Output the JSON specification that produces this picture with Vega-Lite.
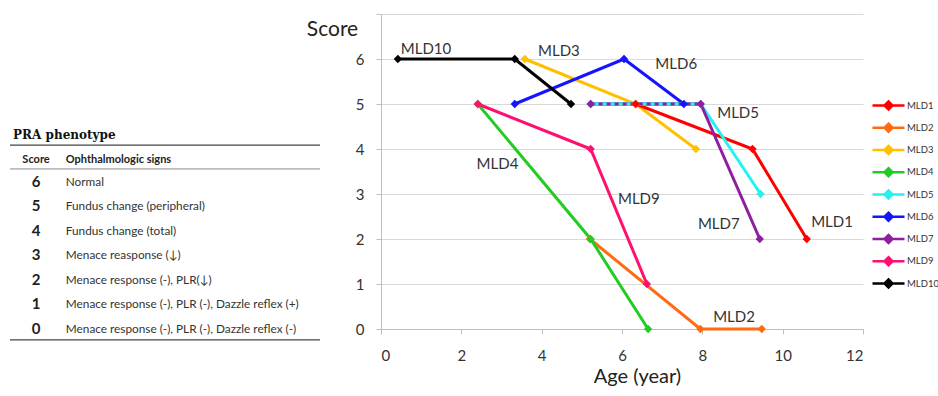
{
  "$schema": "https://vega.github.io/schema/vega-lite/v6.json",
  "padding": {"left": 9, "top": 13, "right": 0, "bottom": 0},
  "autosize": {"type": "pad"},
  "config": {"view": {"stroke": null}, "font": "Lato"},
  "bounds": "flush",
  "spacing": 61,
  "datasets": {
    "phenotype": [
      {"score": 6, "sign": "Normal"},
      {"score": 5, "sign": "Fundus change (peripheral)"},
      {"score": 4, "sign": "Fundus change (total)"},
      {"score": 3, "sign": "Menace reasponse (↓)"},
      {"score": 2, "sign": "Menace response (-), PLR(↓)"},
      {"score": 1, "sign": "Menace response (-), PLR (-), Dazzle reflex (+)"},
      {"score": 0, "sign": "Menace response (-), PLR (-), Dazzle reflex (-)"}
    ],
    "series": [
      {"series": "MLD2", "age": 5.2, "score": 2},
      {"series": "MLD2", "age": 7.95, "score": 0},
      {"series": "MLD2", "age": 9.48, "score": 0},
      {"series": "MLD3", "age": 3.58, "score": 6},
      {"series": "MLD3", "age": 6.34, "score": 5},
      {"series": "MLD3", "age": 7.84, "score": 4},
      {"series": "MLD1", "age": 6.34, "score": 5},
      {"series": "MLD1", "age": 9.25, "score": 4},
      {"series": "MLD1", "age": 10.6, "score": 2},
      {"series": "MLD4", "age": 2.41, "score": 5},
      {"series": "MLD4", "age": 5.22, "score": 2},
      {"series": "MLD4", "age": 6.65, "score": 0},
      {"series": "MLD5", "age": 5.22, "score": 5},
      {"series": "MLD5", "age": 7.96, "score": 5},
      {"series": "MLD5", "age": 9.45, "score": 3},
      {"series": "MLD6", "age": 3.33, "score": 5},
      {"series": "MLD6", "age": 6.05, "score": 6},
      {"series": "MLD6", "age": 7.54, "score": 5},
      {"series": "MLD7", "age": 5.22, "score": 5},
      {"series": "MLD7", "age": 7.96, "score": 5},
      {"series": "MLD7", "age": 9.43, "score": 2},
      {"series": "MLD9", "age": 2.41, "score": 5},
      {"series": "MLD9", "age": 5.22, "score": 4},
      {"series": "MLD9", "age": 6.62, "score": 1},
      {"series": "MLD10", "age": 0.42, "score": 6},
      {"series": "MLD10", "age": 3.33, "score": 6},
      {"series": "MLD10", "age": 4.73, "score": 5}
    ],
    "labels": [
      {"name": "MLD10", "age": 1.12, "score": 6.22},
      {"name": "MLD3", "age": 4.43, "score": 6.18},
      {"name": "MLD6", "age": 7.35, "score": 5.9},
      {"name": "MLD5", "age": 8.89, "score": 4.8},
      {"name": "MLD4", "age": 2.9, "score": 3.67},
      {"name": "MLD9", "age": 6.42, "score": 2.89},
      {"name": "MLD7", "age": 8.41, "score": 2.33},
      {"name": "MLD1", "age": 11.23, "score": 2.38},
      {"name": "MLD2", "age": 8.79, "score": 0.27}
    ]
  },
  "hconcat": [
    {
      "width": 310,
      "height": 332,
      "layer": [
        {
          "data": {"name": "phenotype"},
          "mark": {"type": "text", "font": "Lato", "fontWeight": "bold", "fontSize": 15, "align": "center", "baseline": "middle", "color": "#222"},
          "encoding": {
            "x": {"datum": 8.4, "type": "quantitative", "scale": {"domain": [0, 100], "nice": false, "zero": false}, "axis": null},
            "y": {"field": "score", "type": "quantitative", "scale": {"domain": [-0.7, 12.857], "nice": false, "zero": false}, "axis": null},
            "text": {"field": "score"}
          }
        },
        {
          "data": {"name": "phenotype"},
          "mark": {"type": "text", "font": "Lato", "fontSize": 11.8, "align": "left", "baseline": "middle", "color": "#333"},
          "encoding": {
            "x": {"datum": 18, "type": "quantitative"},
            "y": {"field": "score", "type": "quantitative"},
            "text": {"field": "sign"}
          }
        },
        {
          "data": {"values": [{"col": "Score"}]},
          "mark": {"type": "text", "font": "Lato", "fontWeight": "bold", "fontSize": 11, "align": "center", "baseline": "middle", "color": "#222"},
          "encoding": {
            "x": {"datum": 8.4, "type": "quantitative"},
            "y": {"datum": 6.9, "type": "quantitative"},
            "text": {"field": "col"}
          }
        },
        {
          "data": {"values": [{"col": "Ophthalmologic signs"}]},
          "mark": {"type": "text", "font": "Lato", "fontWeight": "bold", "fontSize": 11, "align": "left", "baseline": "middle", "color": "#222"},
          "encoding": {
            "x": {"datum": 18, "type": "quantitative"},
            "y": {"datum": 6.9, "type": "quantitative"},
            "text": {"field": "col"}
          }
        },
        {
          "data": {"values": [{"t": "PRA phenotype"}]},
          "mark": {"type": "text", "font": "DejaVu Serif", "fontWeight": "bold", "fontSize": 12, "align": "left", "baseline": "middle", "color": "#111"},
          "encoding": {
            "x": {"datum": 1, "type": "quantitative"},
            "y": {"datum": 7.9, "type": "quantitative"},
            "text": {"field": "t"}
          }
        },
        {
          "data": {"values": [{"y": 7.5}, {"y": -0.45}]},
          "mark": {"type": "rule", "color": "#444", "strokeWidth": 1.3},
          "encoding": {"y": {"field": "y", "type": "quantitative"}}
        },
        {
          "data": {"values": [{"y": 6.53}]},
          "mark": {"type": "rule", "color": "#888", "strokeWidth": 1},
          "encoding": {"y": {"field": "y", "type": "quantitative"}}
        }
      ]
    },
    {
      "width": 482,
      "height": 315,
      "encoding": {
        "x": {
          "field": "age", "type": "quantitative",
          "scale": {"domain": [0, 12], "nice": false, "zero": false},
          "axis": {
            "title": "Age (year)", "values": [0, 2, 4, 6, 8, 10, 12], "grid": false,
            "domainColor": "#BFBFBF", "tickColor": "#BFBFBF", "tickSize": 5,
            "labelFont": "Lato", "labelFontSize": 15, "labelColor": "#333", "labelPadding": 14,
            "titleFont": "Lato", "titleFontSize": 20, "titleFontWeight": "normal", "titleColor": "#222",
            "titleX": 256, "titleY": 47, "titleBaseline": "middle", "titleAlign": "center"
          }
        },
        "y": {
          "field": "score", "type": "quantitative",
          "scale": {"domain": [0, 7], "nice": false, "zero": false},
          "axis": {
            "title": "Score", "values": [0, 1, 2, 3, 4, 5, 6, 7], "grid": true, "gridColor": "#D9D9D9",
            "labelExpr": "datum.value == 7 ? '' : datum.label",
            "domainColor": "#BFBFBF", "tickColor": "#BFBFBF", "tickSize": 5,
            "labelFont": "Lato", "labelFontSize": 15, "labelColor": "#333", "labelPadding": 12,
            "titleFont": "Lato", "titleFontSize": 21, "titleFontWeight": "normal", "titleColor": "#222",
            "titleAngle": 0, "titleX": -49, "titleY": 15, "titleAlign": "center", "titleBaseline": "middle"
          }
        },
        "color": {
          "field": "series", "type": "nominal",
          "scale": {
            "domain": ["MLD1", "MLD2", "MLD3", "MLD4", "MLD5", "MLD6", "MLD7", "MLD9", "MLD10"],
            "range": ["#FF0000", "#FF6A13", "#FFC000", "#22CC22", "#22F2F2", "#1414FF", "#8F1FA0", "#FF1070", "#000000"]
          },
          "legend": {
            "orient": "none", "legendX": 869, "legendY": 82, "title": null, "padding": 0,
            "symbolType": "M-2,0L2,0M0,-0.5L0.5,0L0,0.5L-0.5,0Z", "symbolSize": 256, "symbolStrokeWidth": 2.5,
            "labelFont": "Lato", "labelFontSize": 9.5, "labelColor": "#333", "labelOffset": 9, "rowPadding": 3.25
          }
        }
      },
      "layer": [
        {
          "data": {"name": "series"},
          "mark": {"type": "line", "strokeWidth": 3}
        },
        {
          "data": {"name": "series"},
          "transform": [{"filter": "datum.series == 'MLD5' && datum.age < 8"}],
          "mark": {"type": "line", "strokeWidth": 3}
        },
        {
          "data": {"name": "series"},
          "transform": [{"filter": "datum.series == 'MLD7' && datum.age < 8"}],
          "mark": {"type": "line", "strokeWidth": 3, "strokeDash": [4, 4]}
        },
        {
          "data": {"name": "series"},
          "mark": {"type": "point", "shape": "diamond", "filled": true, "size": 70, "opacity": 1}
        },
        {
          "data": {"name": "labels"},
          "mark": {"type": "text", "font": "Lato", "fontSize": 15, "color": "#333", "align": "center", "baseline": "middle"},
          "encoding": {
            "text": {"field": "name"},
            "color": {"value": "#333"}
          }
        }
      ]
    }
  ]
}
